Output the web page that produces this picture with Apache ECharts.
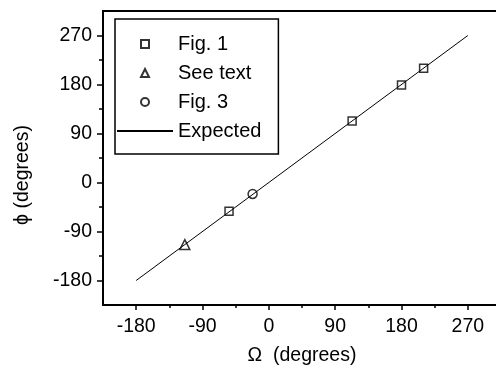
<!DOCTYPE html>
<html>
<head>
<meta charset="utf-8">
<script src="https://cdn.jsdelivr.net/npm/echarts@6/dist/echarts.min.js"></script>
<style>
  html, body { margin: 0; padding: 0; background: #fff; }
  #main { width: 496px; height: 371px; }
</style>
</head>
<body>
<div id="main"></div>
<script>
// data
var fig1X = [-54, 113, 180, 210];
var fig1Y = [-53, 113, 179, 210];
var seeTextX = [-114];
var seeTextY = [-114];
var fig3X = [-22];
var fig3Y = [-21];
var expectedX = [-180, 270];
var expectedY = [-180, 270];

// tick labels
var majorTicks = [-180, -90, 0, 90, 180, 270];
var minorTicks = [-135, -45, 45, 135, 225];

function zip(xs, ys) {
  var out = [];
  for (var i = 0; i < xs.length; i++) out.push([xs[i], ys[i]]);
  return out;
}

var font = "'Liberation Sans', Arial, sans-serif";
var markStyle = { color: 'rgba(0,0,0,0)', borderColor: '#000', borderWidth: 1.5 };
// square / triangle shapes that keep their aspect inside the wide legend slot
var squareIcon = 'path://M0,0L10,0L10,10L0,10Z';
var triangleIcon = 'path://M5,0L10,10L0,10Z';

var chart = echarts.init(document.getElementById('main'));

var option = {
  animation: false,
  textStyle: { fontFamily: font },
  grid: {
    left: 103, top: 11, right: -5, bottom: 66,
    show: true, borderColor: '#000', borderWidth: 2,
    backgroundColor: 'rgba(0,0,0,0)',
    containLabel: false, outerBoundsMode: 'none'
  },
  legend: {
    orient: 'vertical',
    left: 115, top: 19,
    padding: [15, 17, 13, 1],
    borderColor: '#000', borderWidth: 1.5,
    itemWidth: 56, itemHeight: 8, itemGap: 9,
    symbolKeepAspect: true,
    textStyle: { fontSize: 20, color: '#000', fontFamily: font },
    data: [
      { name: 'Fig. 1', icon: squareIcon },
      { name: 'See text', icon: triangleIcon },
      { name: 'Fig. 3', icon: 'circle' },
      { name: 'Expected', itemStyle: { color: 'rgba(0,0,0,0)', borderWidth: 0, opacity: 0 } }
    ]
  },
  xAxis: [
    {
      type: 'value', min: -225, max: 315,
      name: 'Ω  (degrees)', nameLocation: 'middle', nameGap: 41,
      nameTextStyle: { fontSize: 19.5, color: '#000', fontFamily: font },
      axisLine: { onZero: false, lineStyle: { color: '#000', width: 2 } },
      axisTick: { customValues: majorTicks, length: 5, lineStyle: { color: '#000', width: 1.5 } },
      axisLabel: { customValues: majorTicks, fontSize: 19.5, color: '#000', margin: 12, fontFamily: font },
      splitLine: { show: false }
    },
    {
      type: 'value', min: -225, max: 315, position: 'bottom',
      axisLine: { show: false, onZero: false },
      axisTick: { customValues: minorTicks, length: 3, lineStyle: { color: '#000', width: 1.5 } },
      axisLabel: { show: false },
      splitLine: { show: false }
    }
  ],
  yAxis: [
    {
      type: 'value', min: -225, max: 315,
      name: 'ϕ (degrees)', nameLocation: 'middle', nameGap: 70,
      nameTextStyle: { fontSize: 19.5, color: '#000', fontFamily: font, padding: [0, 34, 0, 0] },
      axisLine: { onZero: false, lineStyle: { color: '#000', width: 2 } },
      axisTick: { customValues: majorTicks, length: 6, lineStyle: { color: '#000', width: 1.5 } },
      axisLabel: { customValues: majorTicks, fontSize: 19.5, color: '#000', margin: 11, fontFamily: font },
      splitLine: { show: false }
    },
    {
      type: 'value', min: -225, max: 315, position: 'left',
      axisLine: { show: false, onZero: false },
      axisTick: { customValues: minorTicks, length: 4, lineStyle: { color: '#000', width: 1.5 } },
      axisLabel: { show: false },
      splitLine: { show: false }
    }
  ],
  series: [
    {
      name: 'Expected', type: 'line', symbol: 'none',
      data: zip(expectedX, expectedY),
      lineStyle: { color: '#000', width: 1 },
      itemStyle: { color: '#000' },
      z: 1
    },
    {
      name: 'Fig. 1', type: 'scatter', symbol: 'rect', symbolSize: 8,
      data: zip(fig1X, fig1Y), itemStyle: markStyle, z: 3
    },
    {
      name: 'See text', type: 'scatter', symbol: 'triangle', symbolSize: 10,
      data: zip(seeTextX, seeTextY), itemStyle: markStyle, z: 3
    },
    {
      name: 'Fig. 3', type: 'scatter', symbol: 'circle', symbolSize: 9,
      data: zip(fig3X, fig3Y), itemStyle: markStyle, z: 3
    }
  ]
};

chart.setOption(option);
</script>
</body>
</html>
